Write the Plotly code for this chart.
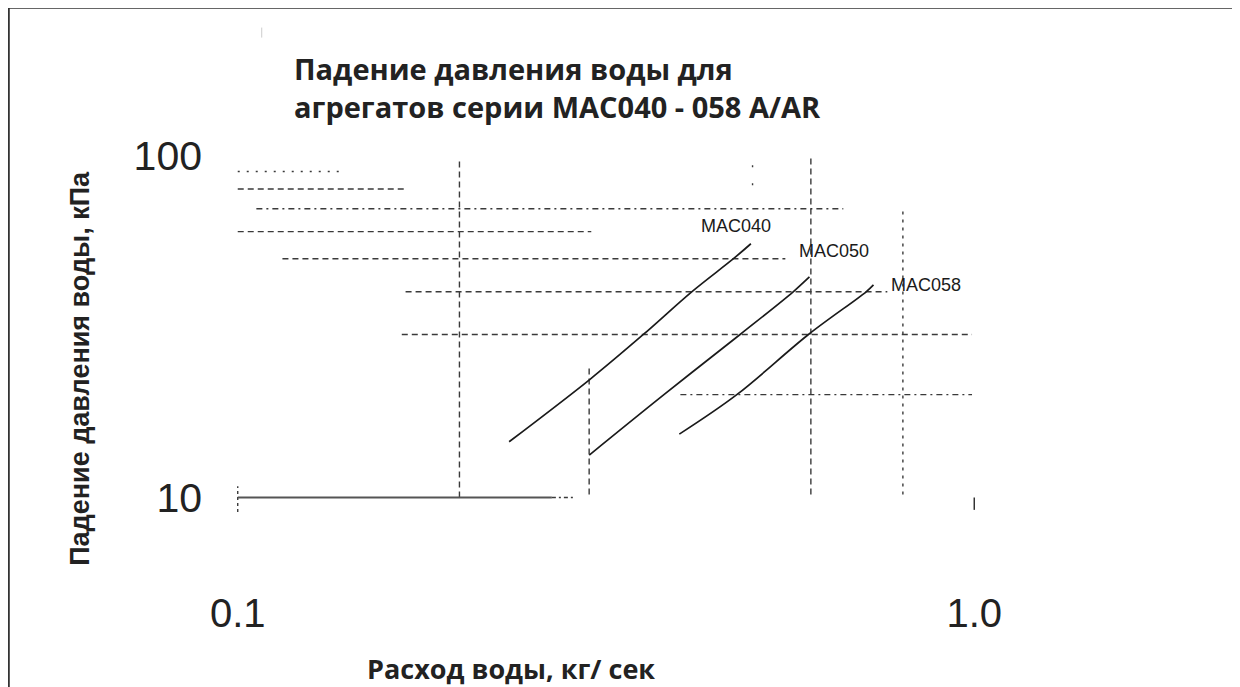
import plotly.graph_objects as go
import math

# ---------------- data ----------------
mac040_flow = [0.2336, 0.3008, 0.3554, 0.4134, 0.4710, 0.4974]
mac040_dp = [14.56, 22.18, 30.0, 40.0, 50.0, 55.3]

mac050_flow = [0.3001, 0.379, 0.4809, 0.5677, 0.5973]
mac050_dp = [13.31, 20.0, 30.0, 40.0, 44.2]

mac058_flow = [0.3977, 0.476, 0.5955, 0.7131, 0.7297]
mac058_dp = [15.33, 20.0, 30.0, 40.0, 41.9]

series_names = ["MAC040", "MAC050", "MAC058"]
label_x = [0.4230, 0.5750, 0.7650]
label_y = [62.5, 52.5, 41.9]

# horizontal grid segments: level (kPa), flow from, flow to, dash
h_levels = [90, 80, 70, 60, 50, 40, 30, 20]
h_from = [0.100, 0.100, 0.106, 0.100, 0.115, 0.169, 0.167, 0.399]
h_to = [0.139, 0.170, 0.664, 0.302, 0.554, 0.762, 0.993, 0.993]
h_dash = ["2px,7px", "6px,4px", "6px,4px,2px,4px", "6px,4px", "6px,4px",
          "6px,4px", "6px,4px", "6px,4px,2px,4px"]

# vertical grid segments: flow, dp from, dp to, dash
v_flows = [0.1, 0.2, 0.3, 0.5, 0.6, 0.8]
v_from = [9.07, 10.0, 10.2, 82.0, 10.2, 10.2]
v_to = [10.79, 97.5, 24.5, 98.0, 99.0, 69.6]
v_dash = ["3px,3px", "6px,4px", "6px,4px", "2px,16px", "6px,4px", "3px,5px"]

base_dp = 10
base_from, base_to = 0.1, 0.267
base_tail_to = 0.287
tick_one_flow = 1.0
tick_one_dp = [9.2, 10.0]

x_tick_vals = [0.1, 1.0]
x_tick_text = ["0.1", "1.0"]
y_tick_vals = [10, 100]
y_tick_text = ["10", "100"]

title_lines = ["Падение давления воды для", "агрегатов серии MAC040 - 058 A/AR"]
y_title = "Падение давления воды, кПа"
x_title = "Расход воды, кг/ сек"

# ---------------- figure ----------------
OFF = 8  # page body margin
W_PX, H_PX = 1240 - OFF, 687 - OFF
XR = [-1.02, 0.02]
YR = [0.94, 2.02]
L_S, T_S = 223.3, 149.2          # plot-area corner in screen pixels
PW, PH = 765.4, 368.3
L = L_S - OFF
T = T_S - OFF
R = W_PX - L - PW
B = H_PX - T - PH


def px_x(sx):
    return (sx - L_S) / PW


def px_y(sy):
    return 1 - (sy - T_S) / PH


fig = go.Figure()
grid_col = "#3a3a3a"

for lvl, a, b, d in zip(h_levels, h_from, h_to, h_dash):
    fig.add_trace(go.Scatter(x=[a, b], y=[lvl, lvl], mode="lines",
                             line=dict(color=grid_col, width=1.4, dash=d),
                             hoverinfo="skip", showlegend=False))
for f, a, b, d in zip(v_flows, v_from, v_to, v_dash):
    fig.add_trace(go.Scatter(x=[f, f], y=[a, b], mode="lines",
                             line=dict(color=grid_col, width=1.4, dash=d),
                             hoverinfo="skip", showlegend=False))

fig.add_trace(go.Scatter(x=[base_from, base_to], y=[base_dp, base_dp], mode="lines",
                         line=dict(color="#555555", width=2.2),
                         hoverinfo="skip", showlegend=False))
fig.add_trace(go.Scatter(x=[base_to, base_tail_to], y=[base_dp, base_dp], mode="lines",
                         line=dict(color=grid_col, width=1.4, dash="4px,3px,2px,3px"),
                         hoverinfo="skip", showlegend=False))
fig.add_trace(go.Scatter(x=[tick_one_flow, tick_one_flow], y=tick_one_dp, mode="lines",
                         line=dict(color="#333333", width=1.5),
                         hoverinfo="skip", showlegend=False))

for name, xs, ys in zip(series_names,
                        [mac040_flow, mac050_flow, mac058_flow],
                        [mac040_dp, mac050_dp, mac058_dp]):
    fig.add_trace(go.Scatter(x=xs, y=ys, mode="lines", name=name,
                             line=dict(color="#1a1a1a", width=1.7, shape="spline"),
                             showlegend=False))

for name, lx, ly in zip(series_names, label_x, label_y):
    fig.add_annotation(x=math.log10(lx), y=math.log10(ly), xref="x", yref="y",
                       text=name, showarrow=False, xanchor="left", yanchor="middle",
                       font=dict(family="Liberation Sans", size=18, color="#1a1a1a"))

# titles
fig.add_annotation(x=px_x(292), y=px_y(88), xref="paper", yref="paper",
                   text="<b>" + title_lines[0] + "<br>" + title_lines[1] + "</b>",
                   showarrow=False, align="left",
                   xanchor="left", yanchor="middle",
                   font=dict(family="Open Sans", size=29, color="#222222"))
fig.add_annotation(x=px_x(81), y=px_y(368), xref="paper", yref="paper",
                   text="<b>" + y_title + "</b>", showarrow=False, textangle=-90,
                   xanchor="center", yanchor="middle",
                   font=dict(family="Liberation Sans", size=27, color="#222222"))
fig.add_annotation(x=px_x(365), y=px_y(668), xref="paper", yref="paper",
                   text="<b>" + x_title + "</b>", showarrow=False,
                   xanchor="left", yanchor="middle",
                   font=dict(family="Open Sans", size=27, color="#222222"))

# frame
fig.add_shape(type="line", xref="paper", yref="paper",
              x0=px_x(8), x1=px_x(1245), y0=px_y(8), y1=px_y(8),
              line=dict(color="#333333", width=2.5))
fig.add_shape(type="line", xref="paper", yref="paper",
              x0=px_x(9), x1=px_x(9), y0=px_y(8), y1=px_y(700),
              line=dict(color="#333333", width=2.5))
fig.add_shape(type="line", xref="paper", yref="paper",
              x0=px_x(262), x1=px_x(262), y0=px_y(28), y1=px_y(38),
              line=dict(color="#cccccc", width=1))

fig.update_xaxes(type="log", range=XR, showgrid=False, zeroline=False, showline=False,
                 ticks="", tickvals=x_tick_vals, ticktext=x_tick_text,
                 ticklabelstandoff=68,
                 tickfont=dict(family="Liberation Sans", size=40, color="#222222"))
fig.update_yaxes(type="log", range=YR, showgrid=False, zeroline=False, showline=False,
                 ticks="", tickvals=y_tick_vals, ticktext=y_tick_text,
                 ticklabelstandoff=20,
                 tickfont=dict(family="Liberation Sans", size=41, color="#222222"))

fig.update_layout(width=W_PX, height=H_PX,
                  margin=dict(l=L, r=R, t=T, b=B, autoexpand=False),
                  paper_bgcolor="white", plot_bgcolor="white",
                  showlegend=False)

fig.write_html("out.html")
